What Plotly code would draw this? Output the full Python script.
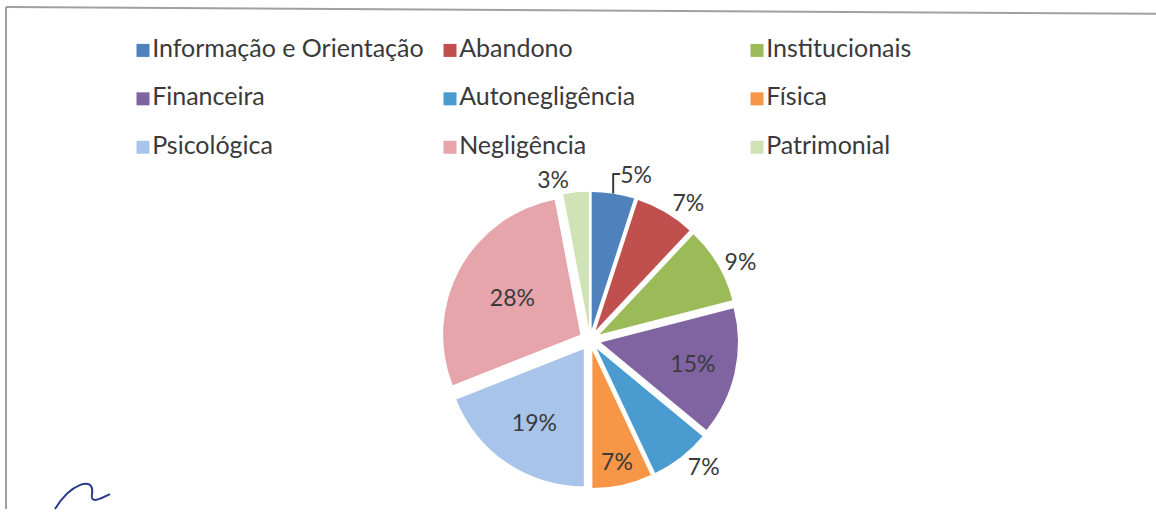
import plotly.graph_objects as go

# ---- data ----
categories = ["Informação e Orientação", "Abandono", "Institucionais",
              "Financeira", "Autonegligência", "Física",
              "Psicológica", "Negligência", "Patrimonial"]
values = [5, 7, 9, 15, 7, 7, 19, 28, 3]
colors = ["#4F81BD", "#C0504D", "#9BBB59",
          "#8064A2", "#4A9CD0", "#F79646",
          "#A9C4EA", "#E6A5AB", "#CFE3B6"]
label_pos = ["outside", "outside", "outside",
             "inside", "outside", "inside",
             "inside", "inside", "outside"]

W, H = 1156, 515
FONT = "Lato"
TXT = "#3a3a3a"

fig = go.Figure()

# ---- pie ----
cx, cy, half = 590, 344, 150
fig.add_trace(go.Pie(
    labels=categories, values=values, sort=False, direction="clockwise",
    rotation=0, marker=dict(colors=colors, line=dict(color="white", width=0)),
    pull=[0.08] * len(values),
    texttemplate="%{percent:.0%}", textposition=label_pos,
    insidetextorientation="horizontal",
    insidetextfont=dict(family=FONT, size=23, color=TXT),
    outsidetextfont=dict(family=FONT, size=23, color=TXT),
    showlegend=False, hoverinfo="label+percent",
    domain=dict(x=[(cx - half) / W, (cx + half) / W],
                y=[1 - (cy + half) / H, 1 - (cy - half) / H]),
))

# ---- legend (3 columns, row-wise order) ----
ncol = 3
cols = [i % ncol for i in range(len(categories))]
rows = [i // ncol for i in range(len(categories))]
fig.add_trace(go.Scatter(
    x=cols, y=rows, mode="markers+text",
    marker=dict(symbol="square", size=13, color=colors),
    text=categories, textposition="middle right",
    textfont=dict(family=FONT, size=25, color=TXT),
    hoverinfo="skip", showlegend=False, cliponaxis=False,
))

col0_px, col_step = 143, 307
row0_px, row_step = 51, 49
fig.update_xaxes(visible=False, domain=[0, 1],
                 range=[-col0_px / col_step, (W - col0_px) / col_step])
fig.update_yaxes(visible=False, domain=[0, 1],
                 range=[(H - row0_px) / row_step, -row0_px / row_step])

# ---- frame & signature ----
frame = "#a0a0a0"
fig.add_shape(type="line", xref="paper", yref="paper",
              x0=6 / W, y0=1 - 7 / H, x1=1, y1=1 - 14 / H,
              line=dict(color=frame, width=2))
fig.add_shape(type="line", xref="paper", yref="paper",
              x0=6 / W, y0=1 - 7 / H, x1=6 / W, y1=0,
              line=dict(color=frame, width=2))
fig.add_shape(type="path", xref="paper", yref="paper",
              path="M %f %f C %f %f, %f %f, %f %f C %f %f, %f %f, %f %f" % (
                  55 / W, 0.0, 70 / W, 1 - 490 / H, 95 / W, 1 - 480 / H,
                  92 / W, 1 - 500 / H, 90 / W, 1 - 510 / H, 100 / W, 1 - 505 / H,
                  110 / W, 1 - 500 / H),
              line=dict(color="#2b3a8c", width=2))

fig.update_layout(
    width=W, height=H, margin=dict(l=0, r=0, t=0, b=0),
    paper_bgcolor="white", plot_bgcolor="white",
    font=dict(family=FONT, color=TXT),
)

fig.write_html("out.html", config={"displayModeBar": False},
               post_script="document.body.style.margin='0px';")
